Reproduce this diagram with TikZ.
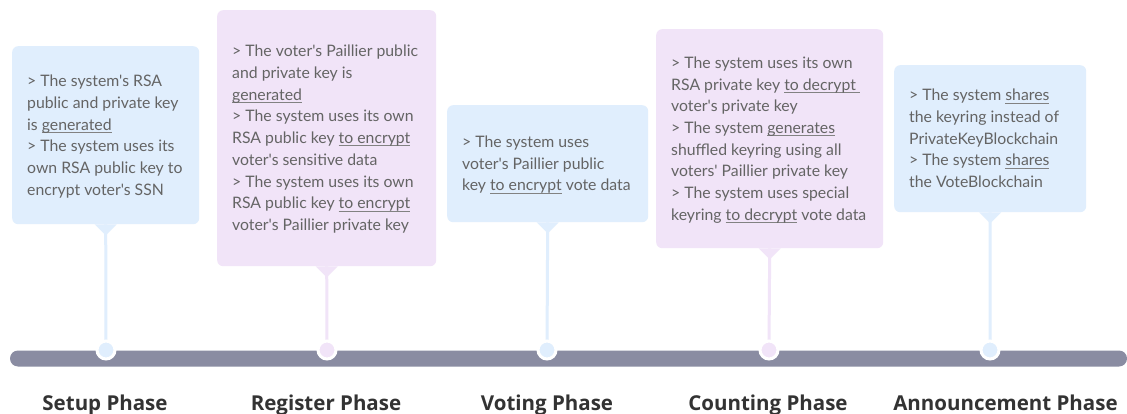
\documentclass[tikz,border=0pt]{standalone}
\usepackage{fontspec}
\newfontfamily\bodyfont{Lato}
\newfontfamily\titlefont{Open Sans}
\definecolor{boxblue}{RGB}{224,238,253}
\definecolor{boxpurple}{RGB}{241,228,248}
\definecolor{barcol}{RGB}{138,140,162}
\definecolor{bodytext}{RGB}{100,100,100}
\definecolor{ulcol}{RGB}{130,130,130}
\definecolor{titletext}{RGB}{51,51,51}
\newcommand\uu[1]{\setbox0\hbox{#1}\rlap{\color{ulcol}\rule[-2.6pt]{\wd0}{0.9pt}}\box0\relax}
\newcommand\fl{\rule{0pt}{14pt}}
\begin{document}
\begin{tikzpicture}[x=1pt,y=-1pt,
  panel/.style={rounded corners=6pt, inner sep=0pt, draw=none, anchor=north west},
  bodytxt/.style={anchor=north west, inner sep=0pt, align=left, text=bodytext,
    font=\bodyfont\fontsize{15.8}{21.7}\selectfont},
  phase/.style={anchor=base, inner sep=0pt, text=titletext,
    font=\titlefont\bfseries\fontsize{20.5}{25}\selectfont},
  stem/.style={line width=3pt},
  dot/.style={circle, minimum size=18pt, inner sep=0pt, draw=white, line width=3pt},
  bar/.style={rounded corners=8pt, fill=barcol, minimum width=1117pt, minimum height=16pt, inner sep=0pt}
]
\useasboundingbox (0,0) rectangle (1127,414);
\fill[white] (0,0) rectangle (1127,414);

% timeline bar
\node[bar] (bar) at (568.5,358.5) {};

% panels
\node[panel, fill=boxblue, minimum width=187pt, minimum height=178pt] (b1) at (12,46) {};
\node[panel, fill=boxpurple, minimum width=219pt, minimum height=256pt] (b2) at (217,10) {};
\node[panel, fill=boxblue, minimum width=201pt, minimum height=117pt] (b3) at (447,105) {};
\node[panel, fill=boxpurple, minimum width=227pt, minimum height=219pt] (b4) at (656,29) {};
\node[panel, fill=boxblue, minimum width=192pt, minimum height=147pt] (b5) at (894,65) {};

% pointers
\foreach \b/\c in {b1/boxblue,b2/boxpurple,b3/boxblue,b4/boxpurple,b5/boxblue}{
  \fill[\c] ([xshift=-11pt]\b.south) -- ([xshift=11pt]\b.south) -- ([yshift=-11pt]\b.south) -- cycle;
}

% stems
\draw[stem, boxblue] (b1.south) -- (106,350);
\draw[stem, boxpurple] (b2.south) -- (327,350);
\draw[stem, boxblue] (b3.south) -- (547,350);
\draw[stem, boxpurple] (b4.south) -- (769,350);
\draw[stem, boxblue] (b5.south) -- (990,350);

% dots
\node[dot, fill=boxblue] (d1) at (106,350) {};
\node[dot, fill=boxpurple] (d2) at (327,350) {};
\node[dot, fill=boxblue] (d3) at (547,350) {};
\node[dot, fill=boxpurple] (d4) at (769,350) {};
\node[dot, fill=boxblue] (d5) at (990,350) {};

% texts
\node[bodytxt] (t1) at (27,72.7) {\fl> The system's RSA\\
public and private key\\
is \uu{generated}\\
> The system uses its\\
own RSA public key to\\
encrypt voter's SSN};

\node[bodytxt] (t2) at (232,42.7) {\fl> The voter's Paillier public\\
and private key is\\
\uu{generated}\\
> The system uses its own\\
RSA public key \uu{to encrypt}\\
voter's sensitive data\\
> The system uses its own\\
RSA public key \uu{to encrypt}\\
voter's Paillier private key};

\node[bodytxt] (t3) at (462,133.3) {\fl> The system uses\\
voter's Paillier public\\
key \uu{to encrypt} vote data};

\node[bodytxt] (t4) at (671,54.3) {\fl> The system uses its own\\
RSA private key \uu{to decrypt\ }\\
voter's private key\\
> The system \uu{generates}\\
shuffled keyring using all\\
voters' Paillier private key\\
> The system uses special\\
keyring \uu{to decrypt} vote data};

\node[bodytxt] (t5) at (909,86.7) {\fl> The system \uu{shares}\\
the keyring instead of\\
PrivateKeyBlockchain\\
> The system \uu{shares}\\
the VoteBlockchain};

% phase labels
\node[phase] (l1) at (105,410) {Setup Phase};
\node[phase] (l2) at (326,410) {Register Phase};
\node[phase] (l3) at (547,410) {Voting Phase};
\node[phase] (l4) at (768,410) {Counting Phase};
\node[phase] (l5) at (1005.5,410) {Announcement Phase};
\end{tikzpicture}
\end{document}
